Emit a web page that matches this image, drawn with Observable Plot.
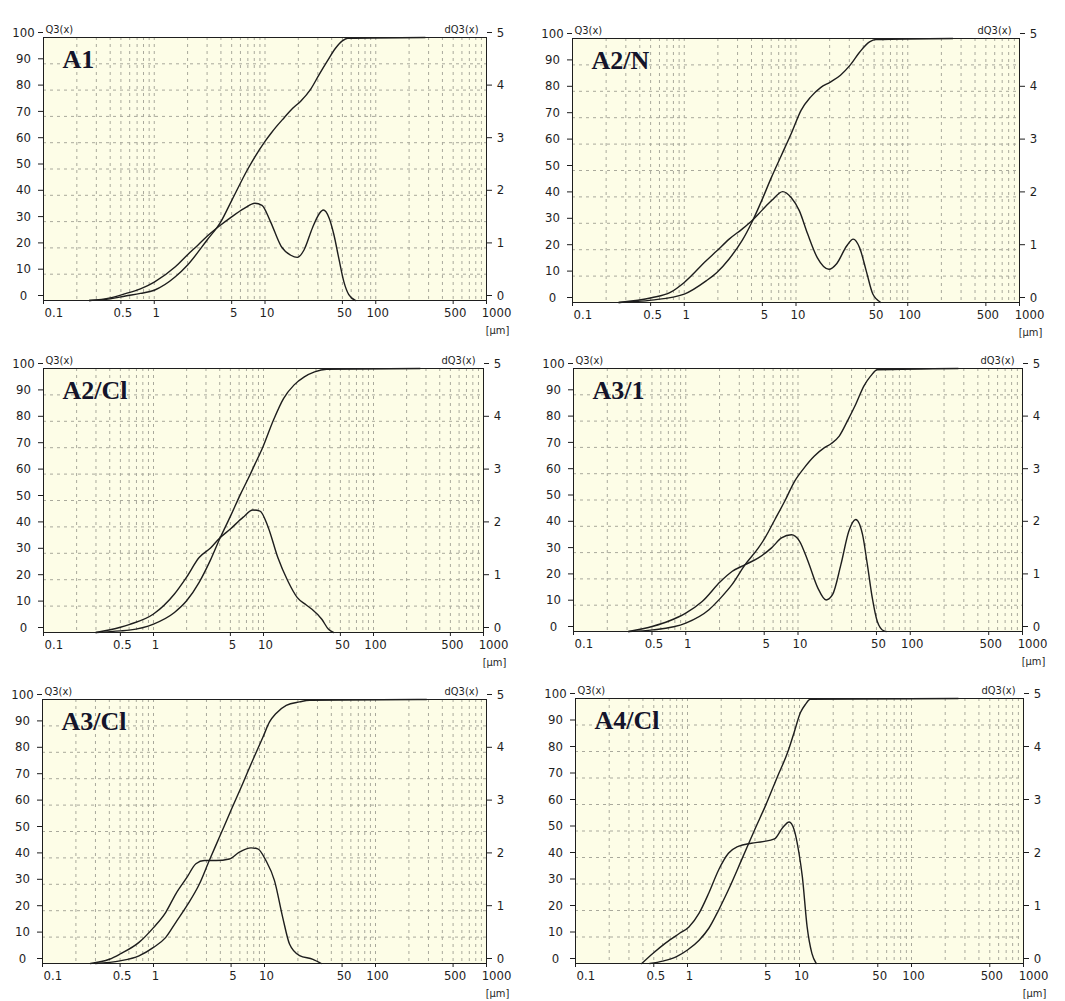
<!DOCTYPE html>
<html><head><meta charset="utf-8">
<script src="https://cdn.jsdelivr.net/npm/d3@7"></script>
<script src="https://cdn.jsdelivr.net/npm/@observablehq/plot@0.6"></script>
<style>
body{margin:0;background:#fff;}
#wrap{position:relative;width:1065px;height:1001px;overflow:hidden;background:#fff;}
#wrap svg{position:absolute;}
</style></head><body><div id="wrap"></div>
<script>
// ---------- data (particle size in µm, Q3 in %, dQ3) ----------
const panelNames = ["A1", "A2/N", "A2/Cl", "A3/1", "A3/Cl", "A4/Cl"];
const xTicks = [0.1, 0.5, 1, 5, 10, 50, 100, 500, 1000];
const xTickLabels = ["0.1", "0.5", "1", "5", "10", "50", "100", "500", "1000"];
const q3Ticks = [0, 10, 20, 30, 40, 50, 60, 70, 80, 90, 100];
const dq3Ticks = [0, 1, 2, 3, 4, 5];
const xGrid = [0.2,0.3,0.4,0.5,0.6,0.7,0.8,0.9,1,2,3,4,5,6,7,8,9,10,20,30,40,50,60,70,80,90,100,200,300,400,500,600,700,800,900];
const yGrid = [10, 20, 30, 40, 50, 60, 70, 80, 90];

const A1_q3_size = [0.26,0.40,0.55,0.75,1.0,1.55,2.0,3.0,4.0,5.0,7.0,10,11.3,12.6,14.9,17.7,21,25.8,30.9,36.5,43.3,49.9,55.7,279];
const A1_q3 = [0,0.6,1.7,2.7,3.9,9,13.5,23,30,38,50,60.5,63.5,66,69.5,73,75.8,80.3,86,91,95.9,98.7,99.7,100];
const A1_dq3_size = [0.26,0.40,0.55,0.75,1.0,1.55,2.0,2.5,3.0,3.9,5.0,6.5,8.1,9.4,11.2,14.0,17.1,19.6,22.5,26.8,30.9,33.6,37.9,41.9,46.4,51.5,57.1,65.5];
const A1_dq3 = [0,0.05,0.13,0.22,0.35,0.64,0.87,1.06,1.22,1.42,1.59,1.75,1.85,1.81,1.5,1.03,0.86,0.82,0.96,1.38,1.65,1.72,1.57,1.25,0.80,0.36,0.11,0];

const A2N_q3_size = [0.26,0.51,1.0,1.57,1.96,2.52,3.29,4.03,4.93,6.04,7.39,9.05,11.1,13.5,16.6,20.3,25.0,30.5,37.2,45.5,52.0,253];
const A2N_q3 = [0,0.9,3.2,8.2,11.4,16.5,23.4,30.4,38.6,47.5,55.7,63.9,72.8,77.8,81.4,83.5,86.1,89.9,94.9,98.7,99.6,100];
const A2N_dq3_size = [0.26,0.51,0.75,1.0,1.57,1.96,2.52,3.29,4.03,4.93,6.04,7.6,9.05,10.7,12.7,15.5,19.7,23.2,28.4,32.5,37.2,42.5,48.7,57.5];
const A2N_dq3 = [0,0.09,0.19,0.38,0.79,0.98,1.20,1.39,1.55,1.74,1.93,2.10,1.99,1.74,1.30,0.85,0.63,0.74,1.07,1.20,1.03,0.60,0.16,0];

const A2Cl_q3_size = [0.30,0.50,0.60,1.0,1.55,2.0,2.6,3.3,4.0,5.0,6.2,7.3,8.3,9.7,12.3,15.2,18.9,23.5,29.1,37.5,265];
const A2Cl_q3 = [0,0.6,0.9,3.2,7.6,12,19,27.5,35.5,44,52.5,58.5,63.5,69.5,80.4,88.6,93.7,96.8,98.7,99.7,100];
const A2Cl_dq3_size = [0.30,0.50,0.60,1.0,1.55,2.0,2.6,3.3,4.0,5.0,6.5,8.0,9.3,11.0,13.5,16.6,20.3,24.5,27.6,33.9,39.0,43.3];
const A2Cl_dq3 = [0,0.1,0.15,0.35,0.73,1.05,1.42,1.6,1.79,1.96,2.18,2.32,2.30,2.0,1.42,0.98,0.66,0.52,0.44,0.25,0.06,0];

const A31_q3_size = [0.31,0.51,1.0,1.61,2.04,2.58,3.38,4.44,5.08,6.23,7.63,9.35,11.4,14.0,17.2,19.7,23.3,27.6,32.7,38.7,44.5,50.9,267];
const A31_q3 = [0,0.6,3.2,8.3,12.7,17.8,25.4,31.8,35.6,42.6,49.6,57.2,62.3,66.7,69.9,71.4,74.3,80.1,86.4,93.4,97.2,99.5,100];
const A31_dq3_size = [0.31,0.51,0.71,1.0,1.40,2.04,2.58,3.38,4.44,5.81,7.13,8.75,10.3,12.3,15.0,17.8,20.3,24.1,28.4,32.7,37.6,41.5,45.9,50.9,58.1,61];
const A31_dq3 = [0,0.10,0.20,0.35,0.57,0.95,1.14,1.27,1.40,1.59,1.78,1.84,1.72,1.33,0.83,0.60,0.70,1.27,1.91,2.13,1.84,1.27,0.64,0.19,0.01,0];

const A3Cl_q3_size = [0.30,0.50,0.74,1.0,1.29,1.59,2.0,2.59,3.18,3.92,5.06,6.36,7.83,9.65,11.1,12.7,15.7,20.7,25.5,288];
const A3Cl_q3 = [0,1.0,2.9,6.1,9.9,15.6,21.9,30.1,39.0,47.8,58.6,68.1,77.0,85.6,91.5,94.7,97.8,99.1,99.7,100];
const A3Cl_dq3_size = [0.27,0.40,0.50,0.74,1.0,1.29,1.59,2.0,2.41,2.87,3.66,4.82,5.94,7.56,8.70,10.3,12.3,14.6,16.8,20.7,27.3,32.5];
const A3Cl_dq3 = [0,0.08,0.18,0.40,0.68,0.97,1.32,1.63,1.89,1.95,1.95,1.98,2.11,2.19,2.17,1.95,1.57,0.87,0.37,0.15,0.08,0];

const A4Cl_q3_size = [0.46,0.60,0.79,1.0,1.27,1.55,1.90,2.32,3.04,3.98,4.94,6.38,7.81,8.94,10.2,11.3,12.5,261];
const A4Cl_q3 = [0,0.9,2.5,5.1,8.8,13.3,20.2,27.8,39.1,50.5,59.3,70.7,79.5,87.1,94.7,97.8,99.7,100];
const A4Cl_dq3_size = [0.39,0.49,0.64,0.85,1.03,1.27,1.55,1.90,2.32,2.84,3.72,4.72,5.97,7.06,8.08,8.94,9.9,10.6,11.7,12.9,14.1];
const A4Cl_dq3 = [0,0.19,0.39,0.57,0.69,0.95,1.33,1.77,2.08,2.21,2.27,2.30,2.35,2.56,2.67,2.53,2.08,1.64,0.69,0.19,0];

// ---------- layout ----------
const series = [
  [A1_q3_size, A1_q3, A1_dq3_size, A1_dq3],
  [A2N_q3_size, A2N_q3, A2N_dq3_size, A2N_dq3],
  [A2Cl_q3_size, A2Cl_q3, A2Cl_dq3_size, A2Cl_dq3],
  [A31_q3_size, A31_q3, A31_dq3_size, A31_dq3],
  [A3Cl_q3_size, A3Cl_q3, A3Cl_dq3_size, A3Cl_dq3],
  [A4Cl_q3_size, A4Cl_q3, A4Cl_dq3_size, A4Cl_dq3]
];
const frames = [ // plot-area boxes in page pixels: left, right, top, bottom
  [43, 486, 37, 300], [572, 1019, 38, 302],
  [43, 483, 368, 632], [573, 1022, 368, 631],
  [42, 486, 699, 963], [575, 1023, 698, 963]
];
const ML = 43, MR = 40, MT = 37, MB = 36;
const BG = "#fdfde7", GRID = "#a9a99c", INK = "#1e1e1e";
const SANS = "'Liberation Sans Narrow','Arial Narrow','DejaVu Sans Condensed',sans-serif";
const wrap = document.getElementById("wrap");
const xTickData = xTicks.map((v, k) => ({v, label: xTickLabels[k]}));

panelNames.forEach((name, i) => {
  const [qs, qv, ds, dv] = series[i];
  const [L, R, T, B] = frames[i];
  const W = R - L + ML + MR, H = B - T + MT + MB, PH = B - T;
  const q3 = qs.map((s, k) => ({size: s, v: qv[k]}));
  const dq3 = ds.map((s, k) => ({size: s, v: dv[k]}));
  const common = {
    width: W, height: H, marginLeft: ML, marginRight: MR, marginTop: MT, marginBottom: MB,
    x: {type: "log", domain: [0.1, 1000], axis: null},
    style: {background: "transparent", fontFamily: SANS, fontSize: "13px", color: INK, overflow: "visible"}
  };
  const tickTxt = {fontSize: 13, fill: INK};
  const p1 = Plot.plot({
    ...common,
    y: {domain: [0, 100], axis: null},
    marks: [
      Plot.frame({fill: BG, stroke: null}),
      Plot.ruleX(xGrid, {stroke: GRID, strokeDasharray: "3,4", strokeWidth: 1}),
      Plot.ruleY(yGrid, {stroke: GRID, strokeDasharray: "3,4", strokeWidth: 1}),
      Plot.axisY({ticks: q3Ticks, label: null, tickFormat: d => String(d), tickSize: 5, tickPadding: 15,
        textAnchor: "middle", dy: -5, ...tickTxt, stroke: INK}),
      // x ticks and labels
      Plot.ruleX(xTickData, {x: "v", insetTop: PH, insetBottom: -4, stroke: INK}),
      Plot.text(xTickData.slice(0, 1), {x: "v", text: "label", frameAnchor: "bottom", dy: 16, dx: 1, textAnchor: "start", ...tickTxt}),
      Plot.text(xTickData.slice(1, -1), {x: "v", text: "label", frameAnchor: "bottom", dy: 16, dx: 2, textAnchor: "middle", ...tickTxt}),
      Plot.text(xTickData.slice(-1), {x: "v", text: "label", frameAnchor: "bottom", dy: 16, dx: 10, textAnchor: "middle", ...tickTxt}),
      Plot.line(q3, {x: "size", y: "v", curve: "monotone-x", stroke: INK, strokeWidth: 1.4}),
      Plot.frame({stroke: INK, strokeWidth: 1}),
      Plot.text([name], {text: d => d, frameAnchor: "top-left", dx: 19, dy: 30, lineAnchor: "bottom", textAnchor: "start",
        fontFamily: "'Liberation Serif',serif", fontWeight: "bold", fontSize: 26, fill: "#14142a"}),
      Plot.text(["Q3(x)"], {text: d => d, frameAnchor: "top-left", dx: 2, dy: -5, lineAnchor: "bottom", textAnchor: "start", fontSize: 11, fill: INK}),
      Plot.text(["dQ3(x)"], {text: d => d, frameAnchor: "top-right", dx: -8, dy: -5, lineAnchor: "bottom", textAnchor: "end", fontSize: 11, fill: INK}),
      Plot.text(["[μm]"], {text: d => d, frameAnchor: "bottom-right", dx: 11, dy: 26, lineAnchor: "top", textAnchor: "middle", fontSize: 11, fill: INK})
    ]
  });
  const p2 = Plot.plot({
    ...common,
    y: {domain: [0, 5], axis: null},
    marks: [
      Plot.axisY({anchor: "right", ticks: dq3Ticks, label: null, tickFormat: d => String(d), tickSize: 5, tickPadding: 9,
        textAnchor: "middle", dy: -5, ...tickTxt, stroke: INK}),
      Plot.line(dq3, {x: "size", y: "v", curve: "monotone-x", stroke: INK, strokeWidth: 1.4})
    ]
  });
  for (const p of [p1, p2]) {
    p.style.left = (L - ML) + "px";
    p.style.top = (T - MT) + "px";
    wrap.appendChild(p);
  }
});
</script>
</body></html>
